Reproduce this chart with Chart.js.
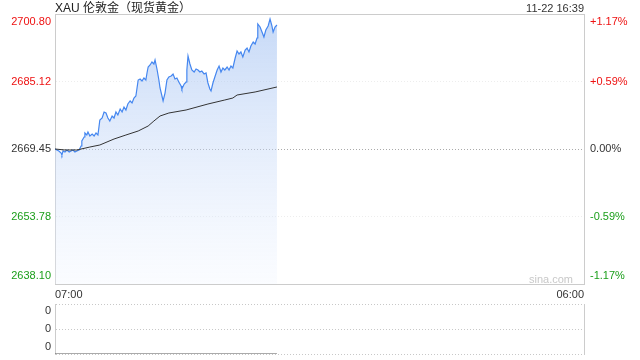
<!DOCTYPE html>
<html>
<head>
<meta charset="utf-8">
<script src="https://cdn.jsdelivr.net/npm/chart.js@4.4.1/dist/chart.umd.min.js"></script>
<style>
  body { margin: 0; background: #fff; font-family: Arial, "Liberation Sans", "Noto Sans CJK SC", sans-serif; }
  #wrap { position: relative; width: 640px; height: 360px; overflow: hidden; }
  canvas { position: absolute; left: 0; }
  #price { top: 0; }
  #vol { top: 295px; }
  .txt { position: absolute; white-space: nowrap; }
  #title { left: 55px; top: 1px; font-size: 12px; line-height: 14px; color: #222; }
  #stamp { right: 56px; top: 1px; font-size: 11px; line-height: 14px; color: #333; }
  #mark { right: 67px; top: 272px; font-size: 11px; line-height: 14px; color: #c8c8c8; }
</style>
</head>
<body>
<div id="wrap">
  <canvas id="price" width="640" height="300"></canvas>
  <canvas id="vol" width="640" height="65"></canvas>
  <div class="txt" id="title">XAU 伦敦金（现货黄金）</div>
  <div class="txt" id="stamp">11-22 16:39</div>
  <div class="txt" id="mark">sina.com</div>
</div>
<script>
// 分时价格
const times = [
  "07:00", "07:05", "07:10", "07:16", "07:18", "07:21", "07:26", "07:31", "07:37", "07:42",
  "07:47", "07:52", "07:57", "08:03", "08:08", "08:10", "08:16", "08:18", "08:23", "08:26",
  "08:31", "08:37", "08:42", "08:47", "08:52", "08:57", "09:03", "09:08", "09:13", "09:18",
  "09:23", "09:29", "09:34", "09:39", "09:44", "09:50", "09:55", "10:00", "10:05", "10:10",
  "10:16", "10:21", "10:26", "10:31", "10:34", "10:37", "10:42", "10:47", "10:52", "10:57",
  "11:00", "11:03", "11:08", "11:13", "11:18", "11:21", "11:26", "11:31", "11:34", "11:39",
  "11:42", "11:47", "11:52", "11:57", "12:03", "12:08", "12:13", "12:18", "12:23", "12:29",
  "12:31", "12:37", "12:42", "12:44", "12:47", "12:52", "12:57", "13:03", "13:08", "13:13",
  "13:18", "13:23", "13:29", "13:34", "13:39", "13:44", "13:47", "13:52", "13:57", "14:03",
  "14:08", "14:13", "14:18", "14:23", "14:29", "14:34", "14:39", "14:44", "14:50", "14:55",
  "15:00", "15:05", "15:10", "15:16", "15:21", "15:26", "15:31", "15:37", "15:42", "15:47",
  "15:49", "15:55", "16:00", "16:05", "16:10", "16:16", "16:21", "16:26", "16:29", "16:34",
  "16:39"
];
const prices = [
  2669.45, 2669.22, 2668.99, 2668.52, 2668.06, 2668.99, 2668.75, 2669.22, 2668.75, 2668.99,
  2669.22, 2668.75, 2668.99, 2669.22, 2670.15, 2671.31, 2672.24, 2673.17, 2672.70, 2673.40,
  2672.47, 2672.93, 2672.47, 2673.17, 2672.70, 2676.18, 2676.65, 2678.04, 2677.81, 2676.65,
  2675.95, 2677.11, 2676.65, 2678.04, 2677.35, 2678.74, 2678.04, 2679.20, 2678.51, 2679.90,
  2680.60, 2680.13, 2681.29, 2681.76, 2683.62, 2685.47, 2685.71, 2685.24, 2685.94, 2685.47,
  2687.10, 2688.49, 2688.96, 2689.65, 2689.19, 2690.12, 2688.03, 2685.47, 2683.62, 2681.76,
  2680.60, 2682.45, 2685.47, 2686.17, 2686.40, 2686.87, 2685.71, 2685.94, 2685.01, 2684.08,
  2683.38, 2684.54, 2685.01, 2687.80, 2691.05, 2689.19, 2687.80, 2687.33, 2688.03, 2687.80,
  2687.33, 2687.56, 2686.87, 2687.10, 2684.78, 2683.38, 2682.92, 2684.78, 2686.17, 2687.80,
  2688.72, 2687.33, 2688.26, 2687.80, 2688.49, 2687.80, 2688.72, 2688.26, 2690.58, 2692.21,
  2691.51, 2691.98, 2690.81, 2692.44, 2692.90, 2691.98, 2693.37, 2694.30, 2693.83, 2695.23,
  2698.48, 2697.78, 2696.62, 2695.46, 2697.08, 2698.01, 2699.64, 2698.01, 2696.62, 2697.78,
  2698.25
];
// 均价线
const avgTimes = ["07:00", "07:26", "07:57", "08:31", "08:57", "09:34", "10:05", "10:37", "11:03", "11:18",
  "11:34", "11:57", "12:42", "13:39", "14:23", "14:44", "14:55", "15:42", "16:39"];
const avgPrices = [2669.45, 2669.22, 2669.22, 2669.91, 2670.38, 2671.77, 2672.70, 2673.63, 2674.79, 2675.95,
  2677.11, 2677.81, 2678.51, 2679.90, 2680.83, 2681.29, 2681.99, 2682.69, 2683.85];
// 成交量
const volTimes = ["07:00", "16:39"];
const volumes = [0, 0];

const yTicks = [2638.10, 2653.78, 2669.45, 2685.12, 2700.80];
const yLabels = ["2638.10", "2653.78", "2669.45", "2685.12", "2700.80"];
const pctLabels = ["-1.17%", "-0.59%", "0.00%", "+0.59%", "+1.17%"];
const xTicks = [0, 1380]; // minutes after 07:00
const xLabels = ["07:00", "06:00"];
const volTicks = [0, 1, 2];
const volLabels = ["0", "0", "0"];

const tickColors = ["#1a9e1a", "#1a9e1a", "#333", "#ee1111", "#ee1111"];
const gridColors = ["rgba(0,0,0,0)", "#ededed", "#aaa", "#ededed", "rgba(0,0,0,0)"];
const FONT = "Arial, 'Liberation Sans', sans-serif";

function toMin(t) {
  const [h, m] = t.split(":").map(Number);
  return (h - 7) * 60 + m;
}

// top / bottom labels sit inside the box
function edgeLabel(text, i, n) {
  if (i === 0) return [text, ""];
  if (i === n - 1) return ["", text];
  return text;
}

// fixed axis size, no extra room for the edge labels
function fixWidth(w) {
  return (s) => {
    s.width = w;
    s.paddingTop = 0;
    s.paddingBottom = 0;
  };
}

function fixHeight(h) {
  return (s) => {
    s.height = h;
    s.paddingLeft = 0;
    s.paddingRight = 0;
  };
}

function areaFill(c) {
  const area = c.chart.chartArea;
  if (!area) return "rgba(0,0,0,0)";
  const g = c.chart.ctx.createLinearGradient(0, area.top, 0, area.bottom);
  g.addColorStop(0, "rgba(150,185,240,0.55)");
  g.addColorStop(1, "rgba(240,245,255,0.3)");
  return g;
}

new Chart(document.getElementById("price"), {
  type: "line",
  data: {
    datasets: [
      {
        data: avgTimes.map((t, i) => ({ x: toMin(t), y: avgPrices[i] })),
        borderColor: "#333",
        borderWidth: 1,
        pointRadius: 0,
        fill: false,
      },
      {
        data: times.map((t, i) => ({ x: toMin(t), y: prices[i] })),
        borderColor: "#4587f0",
        borderWidth: 1.2,
        pointRadius: 0,
        fill: "start",
        backgroundColor: areaFill,
      },
    ],
  },
  options: {
    responsive: false,
    animation: false,
    layout: { padding: { top: 14 } },
    plugins: { legend: { display: false }, tooltip: { enabled: false } },
    scales: {
      x: {
        type: "linear",
        min: 0,
        max: 1380,
        afterBuildTicks: (s) => { s.ticks = xTicks.map((v) => ({ value: v })); },
        afterFit: fixHeight(16),
        ticks: {
          callback: (v, i) => xLabels[i],
          align: "inner",
          maxRotation: 0,
          autoSkip: false,
          padding: 4,
          color: "#333",
          font: { family: FONT, size: 11 },
        },
        grid: { display: false, drawTicks: false },
        border: { display: true, color: "#ccc" },
      },
      xTop: {
        type: "linear",
        position: "top",
        min: 0,
        max: 1380,
        afterFit: fixHeight(0),
        ticks: { display: false },
        grid: { display: false, drawTicks: false },
        border: { display: true, color: "#ccc" },
      },
      y: {
        min: 2638.10,
        max: 2700.80,
        afterBuildTicks: (s) => { s.ticks = yTicks.map((v) => ({ value: v })); },
        afterFit: fixWidth(55),
        ticks: {
          callback: (v, i) => edgeLabel(yLabels[i], i, yLabels.length),
          color: (c) => tickColors[c.index],
          autoSkip: false,
          padding: 4,
          font: { family: FONT, size: 11, lineHeight: 1.45 },
        },
        grid: { color: (c) => gridColors[c.index], drawTicks: false },
        border: { display: true, color: "#ccc", dash: [1, 2] },
      },
      y2: {
        position: "right",
        min: 2638.10,
        max: 2700.80,
        afterBuildTicks: (s) => { s.ticks = yTicks.map((v) => ({ value: v })); },
        afterFit: fixWidth(56),
        ticks: {
          callback: (v, i) => edgeLabel(pctLabels[i], i, pctLabels.length),
          color: (c) => tickColors[c.index],
          autoSkip: false,
          padding: 6,
          font: { family: FONT, size: 11, lineHeight: 1.45 },
        },
        grid: { display: false, drawTicks: false },
        border: { display: true, color: "#ccc" },
      },
    },
  },
});

new Chart(document.getElementById("vol"), {
  type: "line",
  data: {
    datasets: [
      {
        data: volTimes.map((t, i) => ({ x: toMin(t), y: volumes[i] })),
        borderColor: "#555",
        borderWidth: 1,
        pointRadius: 0,
      },
    ],
  },
  options: {
    responsive: false,
    animation: false,
    layout: { padding: { top: 9, bottom: 6 } },
    plugins: { legend: { display: false }, tooltip: { enabled: false } },
    scales: {
      x: { type: "linear", min: 0, max: 1380, display: false },
      y: {
        min: 0,
        max: 2,
        afterBuildTicks: (s) => { s.ticks = volTicks.map((v) => ({ value: v })); },
        afterFit: fixWidth(55),
        ticks: {
          callback: (v, i) => edgeLabel(volLabels[i], i, volLabels.length),
          color: "#333",
          autoSkip: false,
          padding: 4,
          font: { family: FONT, size: 11, lineHeight: 1.2 },
        },
        grid: { color: "#c8c8c8", drawTicks: false },
        border: { display: true, color: "#ccc", dash: [1, 2] },
      },
      y2: {
        position: "right",
        min: 0,
        max: 2,
        afterFit: fixWidth(56),
        ticks: { display: false },
        grid: { display: false, drawTicks: false },
        border: { display: true, color: "#ccc" },
      },
    },
  },
});
</script>
</body>
</html>
